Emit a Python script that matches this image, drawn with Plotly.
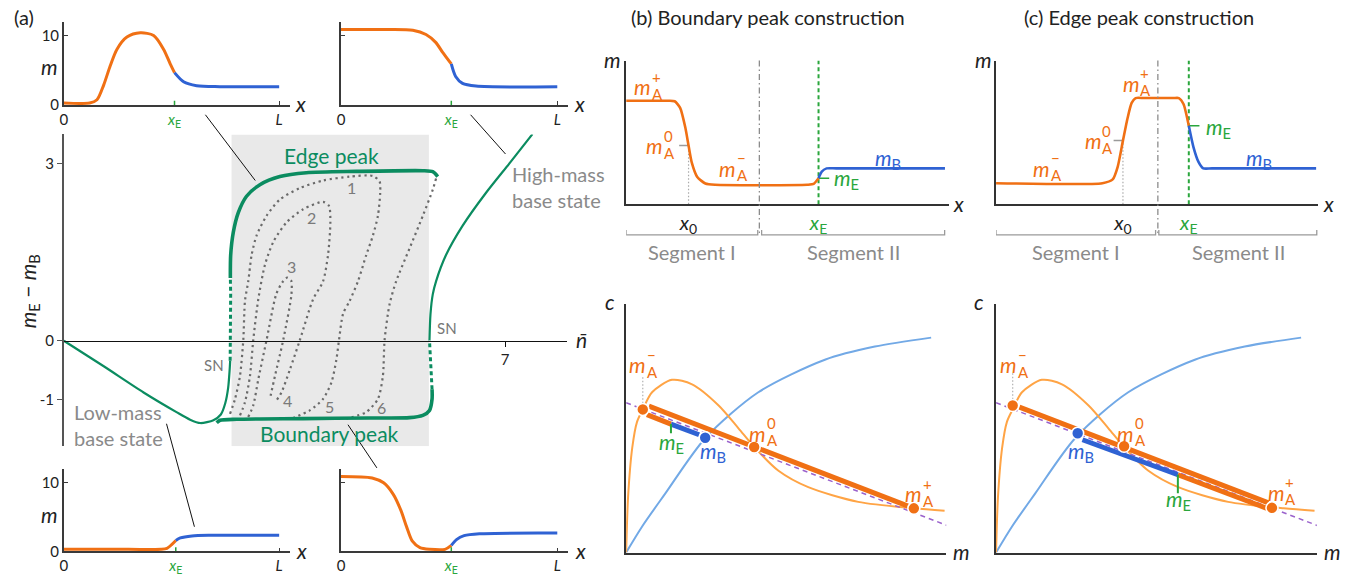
import plotly.graph_objects as go

W, H = 1346, 576
FONT = "Lato, 'Open Sans', sans-serif"

ORANGE = "#f07014"
BLUE = "#2f62d3"
GREEN = "#0b8c60"
GREEN_L = "#2aa63c"
ORANGE_L = "#ffa445"
BLUE_L = "#72a9e6"
PURPLE = "#9a62cc"
GRAY_T = "#8a8a8a"
DOT_GRAY = "#6a6a6a"
AXIS = "#3a3a3a"

# ---------------- (a) bifurcation diagram ----------------
low_n = [0, 0.633, 1.265, 1.787, 2.003, 2.166, 2.372, 2.49, 2.56, 2.607, 2.63, 2.638]
low_d = [0, -0.433, -0.877, -1.21, -1.338, -1.395, -1.348, -1.25, -1.06, -0.79, -0.49, -0.34]
unst_left_n = [2.638, 2.645, 2.646, 2.641]
unst_left_d = [-0.34, 0.29, 0.79, 1.065]
edge_n = [2.641, 2.646, 2.688, 2.767, 2.898, 3.110, 3.427, 3.847, 4.638, 5.693, 5.851, 5.930]
edge_d = [1.065, 1.453, 1.840, 2.173, 2.451, 2.646, 2.784, 2.850, 2.872, 2.884, 2.867, 2.784]
bound_n = [2.424, 2.478, 2.741, 3.795, 4.850, 5.482, 5.693, 5.799, 5.840, 5.840]
bound_d = [-1.39, -1.348, -1.331, -1.321, -1.309, -1.304, -1.265, -1.181, -0.988, -0.822]
unst_right_n = [5.840, 5.819, 5.799]
unst_right_d = [-0.822, -0.378, 0.01]
high_n = [5.799, 5.815, 5.851, 5.903, 6.061, 6.325, 6.693, 7.064, 7.432]
high_d = [0.01, 0.454, 0.787, 1.008, 1.453, 1.952, 2.506, 3.005, 3.504]

# secondary branches (dotted)
br1_n = [2.636, 2.715, 2.794, 2.846, 2.873, 2.925, 2.978, 3.057, 3.215, 3.427, 3.743, 4.111, 4.533,
         4.902, 5.008, 5.017, 4.981, 4.902, 4.796, 4.665, 4.533, 4.428, 4.364, 4.322, 4.243, 4.111,
         3.901, 3.637]
br1_d = [-1.238, -0.988, -0.594, 0.010, 0.676, 1.008, 1.453, 1.785, 2.118, 2.396, 2.589, 2.717, 2.784,
         2.795, 2.701, 2.506, 2.118, 1.785, 1.453, 1.008, 0.676, 0.454, 0.010, -0.323, -0.710, -0.988,
         -1.181, -1.310]
br2_n = [2.794, 2.873, 2.952, 3.004, 3.084, 3.189, 3.321, 3.531, 3.795, 4.111, 4.206, 4.227, 4.190,
         4.111, 3.953, 3.743, 3.585, 3.452, 3.373]
br2_d = [-1.265, -1.043, -0.599, 0.010, 0.704, 1.286, 1.674, 2.007, 2.230, 2.356, 2.285, 2.007, 1.453,
         1.008, 0.704, 0.010, -0.489, -0.877, -1.010]
br3_n = [2.925, 3.004, 3.084, 3.215, 3.368, 3.463, 3.542, 3.605, 3.610, 3.479, 3.348, 3.268]
br3_d = [-1.293, -1.098, -0.656, 0.010, 0.787, 0.987, 1.070, 1.020, 0.787, 0.010, -0.599, -0.988]
br4_n = [5.903, 5.851, 5.693, 5.482, 5.270, 5.166, 5.087, 5.060, 4.981, 4.796, 4.480]
br4_d = [2.751, 2.562, 2.118, 1.564, 1.008, 0.621, 0.010, -0.599, -0.988, -1.210, -1.321]

branch_labels = ["1", "2", "3", "4", "5", "6"]
branch_label_n = [4.57, 3.92, 3.605, 3.54, 4.22, 5.04]
branch_label_d = [2.60, 2.085, 1.253, -1.01, -1.11, -1.14]

window_n = [2.66, 5.79]

# ---------------- (a) profile insets ----------------
tl_xE = 0.514
tl_or_x = [0, 0.12, 0.154, 0.185, 0.216, 0.247, 0.293, 0.355, 0.417, 0.463, 0.494, 0.514]
tl_or_m = [0.28, 0.28, 0.75, 2.86, 5.68, 8.03, 9.77, 10.38, 10.0, 8.03, 5.92, 4.65]
tl_bl_x = [0.514, 0.556, 0.617, 0.725, 1.0]
tl_bl_m = [4.65, 3.34, 2.77, 2.63, 2.63]

tm_xE = 0.51
tm_or_x = [0, 0.2, 0.332, 0.393, 0.439, 0.47, 0.51]
tm_or_m = [10.85, 10.85, 10.75, 10.14, 8.97, 7.56, 5.9]
tm_bl_x = [0.51, 0.53, 0.562, 0.624, 1.0]
tm_bl_m = [5.9, 4.1, 3.1, 2.72, 2.63]

bl_xE = 0.52
bl_or_x = [0, 0.3, 0.452, 0.479, 0.502, 0.52]
bl_or_m = [0.28, 0.28, 0.28, 0.42, 1.0, 1.57]
bl_bl_x = [0.52, 0.541, 0.595, 0.684, 1.0]
bl_bl_m = [1.57, 1.95, 2.24, 2.33, 2.33]

br_xE = 0.51
br_or_x = [0, 0.144, 0.197, 0.241, 0.277, 0.303, 0.33, 0.365, 0.41, 0.481, 0.51]
br_or_m = [10.9, 10.68, 9.97, 8.33, 5.96, 3.59, 1.46, 0.52, 0.28, 0.28, 0.85]
br_bl_x = [0.51, 0.534, 0.569, 0.64, 1.0]
br_bl_m = [0.85, 1.70, 2.27, 2.55, 2.65]

# ---------------- (b)/(c) constructions: profiles ----------------
b_x0, b_xE, b_seg = 1.93, 5.95, 4.12
b_or_x = [0, 1.3, 1.5, 1.67, 1.83, 1.93, 2.03, 2.2, 2.45, 2.75, 5.6, 5.8, 5.95]
b_or_m = [7.2, 7.2, 7.17, 6.71, 5.34, 4.09, 2.9, 1.9, 1.45, 1.36, 1.36, 1.42, 1.81]
b_bl_x = [5.95, 6.05, 6.2, 6.5, 9.86]
b_bl_m = [1.81, 2.27, 2.5, 2.5, 2.5]
b_m0, b_mE = 4.09, 1.81

c_x0, c_xE, c_seg = 3.937, 5.98, 5.02
c_or_x = [0, 3.3, 3.619, 3.774, 3.937, 4.083, 4.207, 4.33, 4.6, 5.5, 5.67, 5.815, 5.98]
c_or_m = [1.47, 1.47, 1.73, 2.61, 4.43, 6.02, 7.05, 7.39, 7.39, 7.39, 7.39, 6.98, 5.46]
c_bl_x = [5.98, 6.124, 6.28, 6.43, 6.7, 9.93]
c_bl_m = [5.46, 3.98, 2.95, 2.5, 2.5, 2.5]
c_m0, c_mE = 4.43, 5.46

b_brackets = [(0, 4.07), (4.19, 9.85)]
c_brackets = [(0, 4.95), (5.05, 9.95)]

# ---------------- (b)/(c) constructions: (m, c) plane ----------------
nullA_m = [0, 0.06, 0.19, 0.34, 0.52, 0.81, 1.43, 2.06, 2.89, 3.51, 4.0, 4.76, 5.69, 7.25, 8.99, 9.95]
nullA_c = [0, 2.23, 4.21, 5.26, 5.76, 6.45, 6.95, 6.77, 5.92, 5.0, 4.25, 3.29, 2.63, 2.04, 1.78, 1.68]
nullB_m = [0, 0.5, 1.22, 2.47, 4.13, 6.21, 7.77, 9.53]
nullB_c = [0, 1.05, 2.37, 4.6, 6.45, 7.76, 8.29, 8.65]
eta_m = [0, 10.05]
eta_c = [6.03, 1.08]

b_dots_m = [0.52, 4.0, 8.99]
b_dots_c = [5.76, 4.25, 1.78]
b_mB = (2.47, 4.62)
b_upper = ([0.71, 8.81], [5.89, 1.87])
b_lower_or = ([0.65, 1.40], [5.55, 5.17])
b_lower_bl = ([1.40, 2.28], [5.17, 4.74])
b_mE_tick = ([1.40, 1.40], [5.17, 4.80])

c_dots_m = [0.52, 4.0, 8.62]
c_dots_c = [5.92, 4.28, 1.80]
c_mB = (2.55, 4.80)
c_upper = ([0.73, 8.51], [5.85, 2.0])
c_lower_bl = ([2.70, 5.68], [4.54, 3.13])
c_lower_or = ([5.68, 8.46], [3.13, 1.78])
c_mE_tick = ([5.68, 5.68], [3.13, 2.39])

# text sizes
T_TITLE = 20
T_LABEL = 21
T_SEG = 20
T_TICK = 15


def PX(px):
    return px / W


def PY(py):
    return 1 - py / H


fig = go.Figure()


def line(ax, xs, ys, color, width, dash=None, spline=True, smoothing=0.9):
    fig.add_trace(go.Scatter(
        x=xs, y=ys, mode="lines", xaxis="x" + ax, yaxis="y" + ax,
        line=dict(color=color, width=width, dash=dash,
                  shape="spline" if spline else "linear",
                  smoothing=smoothing if spline else None),
        hoverinfo="skip", showlegend=False))


def dots(ax, xs, ys, color, size=12):
    fig.add_trace(go.Scatter(
        x=xs, y=ys, mode="markers", xaxis="x" + ax, yaxis="y" + ax,
        marker=dict(color=color, size=size, line=dict(color="white", width=1.6)),
        hoverinfo="skip", showlegend=False, cliponaxis=False))


ann = []


def text(s, x, y, xref="paper", yref="paper", size=18, color="#222", xanchor="center",
         yanchor="middle", angle=0, xshift=0, yshift=0, align="center"):
    ann.append(dict(text=s, x=x, y=y, xref=xref, yref=yref, showarrow=False,
                    font=dict(size=size, color=color, family=FONT),
                    xanchor=xanchor, yanchor=yanchor, textangle=angle,
                    xshift=xshift, yshift=yshift, align=align))


def mlab(ax, x, y, sup, sub, color, size=T_LABEL):
    xr, yr = "x" + ax, "y" + ax
    text("<i>m</i>", x, y, xr, yr, size, color)
    text(sup, x, y, xr, yr, 15, color, xanchor="left", xshift=7, yshift=10)
    text(sub, x, y, xr, yr, 15, color, xanchor="left", xshift=7, yshift=-7)


shapes = []

# ---------- panel (a) main ----------
shapes.append(dict(type="rect", xref="x", yref="y", x0=window_n[0], x1=window_n[1],
                   y0=-1.79, y1=3.5, fillcolor="#e9e9e9", line=dict(width=0), layer="below"))

dotted = "2.2px,3.6px"
for bn, bd in [(br1_n, br1_d), (br2_n, br2_d), (br3_n, br3_d), (br4_n, br4_d)]:
    line("", bn, bd, DOT_GRAY, 2.2, dash=dotted, smoothing=0.7)

line("", low_n, low_d, GREEN, 2.2, smoothing=0.7)
line("", unst_left_n, unst_left_d, GREEN, 3, dash="4px,3px", spline=False)
line("", edge_n, edge_d, GREEN, 3.6, smoothing=0.7)
line("", bound_n, bound_d, GREEN, 3.6, smoothing=0.7)
line("", unst_right_n, unst_right_d, GREEN, 3, dash="4px,3px", spline=False)
line("", high_n, high_d, GREEN, 2.2, smoothing=0.7)

for lab, bn, bd in zip(branch_labels, branch_label_n, branch_label_d):
    text(lab, bn, bd, "x", "y", 16, "#7a7a7a")

text("Edge peak", 4.24, 3.15, "x", "y", 21, GREEN)
text("Boundary peak", 4.22, -1.576, "x", "y", 21, GREEN)
text("High-mass<br>base state", 7.08, 2.61, "x", "y", 20, GRAY_T, xanchor="left", align="left")
text("Low-mass<br>base state", 0.127, -1.426, "x", "y", 20, GRAY_T, xanchor="left", align="left")
text("SN", 5.89, 0.22, "x", "y", 15, "#777", xanchor="left")
text("SN", 2.57, -0.41, "x", "y", 15, "#777", xanchor="right")
text("<i>n̄</i>", PX(579), PY(346), size=21)
text("<i>m</i><sub>E</sub> − <i>m</i><sub>B</sub>", PX(25), PY(297), size=21, angle=-90)
text("(a)", PX(20), PY(17), size=T_TITLE)

# ---------- panel (a) insets ----------
insets = [
    ("2", tl_or_x, tl_or_m, tl_bl_x, tl_bl_m, tl_xE),
    ("3", tm_or_x, tm_or_m, tm_bl_x, tm_bl_m, tm_xE),
    ("4", bl_or_x, bl_or_m, bl_bl_x, bl_bl_m, bl_xE),
    ("5", br_or_x, br_or_m, br_bl_x, br_bl_m, br_xE),
]
for ax, ox, om, bx, bm, xe in insets:
    line(ax, ox, om, ORANGE, 3, smoothing=0.8)
    line(ax, bx, bm, BLUE, 3, smoothing=0.8)
    shapes.append(dict(type="line", xref="x" + ax, yref="y" + ax, x0=xe, x1=xe, y0=0, y1=0.6,
                       line=dict(color=GREEN_L, width=1.5)))

text("<i>m</i>", PX(46), PY(68), size=T_LABEL)
text("<i>m</i>", PX(46), PY(525), size=T_LABEL)
for xpx, ypx in [(297, 106), (577, 106), (298, 561), (578, 561)]:
    text("<i>x</i>", PX(xpx), PY(ypx), size=T_LABEL)

# callout connectors
for (x0, y0, x1, y1) in [(202, 117, 252, 184), (468, 117, 503, 157),
                         (163, 432, 191, 537), (345, 433, 374, 477)]:
    shapes.append(dict(type="line", xref="paper", yref="paper", x0=PX(x0), y0=PY(y0),
                       x1=PX(x1), y1=PY(y1), line=dict(color="#111", width=1)))

# ---------- panels (b)/(c) top: profiles ----------
for ax, ox, om, bx, bm, x0, xe, seg, m0, mE, brk in [
        ("6", b_or_x, b_or_m, b_bl_x, b_bl_m, b_x0, b_xE, b_seg, b_m0, b_mE, b_brackets),
        ("7", c_or_x, c_or_m, c_bl_x, c_bl_m, c_x0, c_xE, c_seg, c_m0, c_mE, c_brackets)]:
    line(ax, [x0, x0], [0, m0], "#aaaaaa", 1.2, dash="1.5px,2px", spline=False)
    line(ax, [x0 - 0.29, x0], [m0, m0], "#9a9a9a", 1.5, spline=False)
    line(ax, [xe, xe], [0, 10], GREEN_L, 2, dash="4px,3px", spline=False)
    line(ax, [xe, xe + 0.33], [mE, mE], GREEN_L, 1.5, spline=False)
    line(ax, ox, om, ORANGE, 2.6, smoothing=0.6)
    line(ax, bx, bm, BLUE, 2.6, smoothing=0.6)
    shapes.append(dict(type="line", xref="x" + ax, yref="paper", x0=seg, x1=seg,
                       y0=PY(61.7), y1=PY(240), line=dict(color="#8c8c8c", width=1.3,
                                                          dash="6px,3px,1.5px,3px")))
    for a, b in brk:
        shapes.append(dict(type="path", xref="x" + ax, yref="paper",
                           path=f"M {a},{PY(234.5)} L {a},{PY(239.5)} L {b},{PY(239.5)} L {b},{PY(234.5)}",
                           line=dict(color="#9a9a9a", width=1.3)))

# labels (b) top
mlab("6", 0.52, 8.19, "+", "A", ORANGE)
mlab("6", 0.88, 4.09, "0", "A", ORANGE)
mlab("6", 3.14, 2.50, "−", "A", ORANGE)
text("<i>m</i><sub>B</sub>", 8.1, 3.18, "x6", "y6", T_LABEL, BLUE)
text("<i>m</i><sub>E</sub>", 6.37, 1.75, "x6", "y6", T_LABEL, GREEN_L, xanchor="left")
text("Segment I", PX(690), PY(256.7), size=T_SEG, color=GRAY_T)
text("Segment II", PX(851.7), PY(256.7), size=T_SEG, color=GRAY_T)
text("<i>m</i>", PX(610), PY(61), size=T_LABEL)
text("<i>x</i>", PX(957), PY(207), size=T_LABEL)
text("(b) Boundary peak construction", PX(766), PY(17), size=T_TITLE)

# labels (c) top
mlab("7", 1.42, 2.50, "−", "A", ORANGE)
mlab("7", 3.02, 4.43, "0", "A", ORANGE)
mlab("7", 4.20, 8.41, "+", "A", ORANGE)
text("<i>m</i><sub>E</sub>", 6.44, 5.34, "x7", "y7", T_LABEL, GREEN_L, xanchor="left")
text("<i>m</i><sub>B</sub>", 8.17, 3.18, "x7", "y7", T_LABEL, BLUE)
text("Segment I", PX(1075), PY(256.7), size=T_SEG, color=GRAY_T)
text("Segment II", PX(1238.3), PY(256.7), size=T_SEG, color=GRAY_T)
text("<i>m</i>", PX(982), PY(61), size=T_LABEL)
text("<i>x</i>", PX(1328.5), PY(207), size=T_LABEL)
text("(c) Edge peak construction", PX(1138), PY(17), size=T_TITLE)

# ---------- panels (b)/(c) bottom: (m, c) plane ----------
for ax, dm, dc, mB, upper, lowers, tick in [
        ("8", b_dots_m, b_dots_c, b_mB, b_upper, [(b_lower_or, ORANGE), (b_lower_bl, BLUE)], b_mE_tick),
        ("9", c_dots_m, c_dots_c, c_mB, c_upper, [(c_lower_bl, BLUE), (c_lower_or, ORANGE)], c_mE_tick)]:
    line(ax, nullB_m, nullB_c, BLUE_L, 2, smoothing=0.8)
    line(ax, nullA_m, nullA_c, ORANGE_L, 2, smoothing=0.8)
    line(ax, eta_m, eta_c, PURPLE, 1.5, dash="5px,4px", spline=False)
    line(ax, [dm[0], dm[0]], [dc[0] + 1.3, dc[0]], "#b0b0b0", 1.2, dash="1.5px,2px", spline=False)
    line(ax, upper[0], upper[1], ORANGE, 5, spline=False)
    for (lx, ly), col in lowers:
        line(ax, lx, ly, col, 5, spline=False)
    line(ax, tick[0], tick[1], GREEN_L, 2, spline=False)
    dots(ax, dm, dc, ORANGE)
    dots(ax, [mB[0]], [mB[1]], BLUE)
    text("<i>η</i><sub>0</sub>", -0.25, 6.03, "x" + ax, "y" + ax, 20, PURPLE, xanchor="right")

mlab("8", 0.37, 7.56, "−", "A", ORANGE)
mlab("8", 4.11, 4.80, "0", "A", ORANGE)
mlab("8", 8.99, 2.37, "+", "A", ORANGE)
text("<i>m</i><sub>E</sub>", 1.41, 4.40, "x8", "y8", T_LABEL, GREEN_L)
text("<i>m</i><sub>B</sub>", 2.70, 4.05, "x8", "y8", T_LABEL, BLUE)
text("<i>c</i>", PX(608), PY(307), size=T_LABEL)
text("<i>m</i>", PX(960), PY(562), size=T_LABEL)

mlab("9", 0.39, 7.56, "−", "A", ORANGE)
mlab("9", 4.05, 4.80, "0", "A", ORANGE)
mlab("9", 8.75, 2.43, "+", "A", ORANGE)
text("<i>m</i><sub>B</sub>", 2.66, 4.05, "x9", "y9", T_LABEL, BLUE)
text("<i>m</i><sub>E</sub>", 5.70, 2.10, "x9", "y9", T_LABEL, GREEN_L)
text("<i>c</i>", PX(978), PY(307), size=T_LABEL)
text("<i>m</i>", PX(1332), PY(562), size=T_LABEL)

# ---------------- axes ----------------
tickfont = dict(size=T_TICK, color="#222", family=FONT)
green_xE = f"<span style='color:{GREEN_L}'><i>x</i><sub>E</sub></span>"


def plain(**kw):
    base = dict(showgrid=False, zeroline=False, fixedrange=True, tickfont=tickfont)
    base.update(kw)
    return base


layout_axes = {}
layout_axes["xaxis"] = plain(domain=[PX(60), PX(565)], range=[0, 7.985], anchor="free",
                             position=PY(347.3), showline=True, linecolor="#111", linewidth=1.2,
                             ticks="outside", ticklen=5, tickcolor="#111",
                             tickvals=[7], ticktext=["7"])
layout_axes["yaxis"] = plain(domain=[PY(455), PY(137)], range=[-1.79, 3.5], anchor="x",
                             showline=True, linecolor="#555", linewidth=1.5,
                             ticks="outside", ticklen=5, tickcolor="#555",
                             tickvals=[3, 0, -1], ticktext=["3", "0", "-1"])

inset_geom = {"2": (60, 287, 107, 22, True, tl_xE), "3": (338, 566, 107, 22, False, tm_xE),
              "4": (60, 287, 562, 478, True, bl_xE), "5": (338, 566, 562, 478, False, br_xE)}
for ax, (xl, xr_, yb, yt, lab, xe) in inset_geom.items():
    layout_axes["xaxis" + ax] = plain(domain=[PX(xl), PX(xr_)], range=[0, 1.051], anchor="y" + ax,
                                      showline=True, linecolor=AXIS, linewidth=1.5,
                                      ticks="inside", ticklen=4, tickcolor=AXIS,
                                      tickvals=[0, xe, 1], ticktext=["0", green_xE, "<i>L</i>"])
    layout_axes["yaxis" + ax] = plain(domain=[PY(yb), PY(yt)], range=[0, 12], anchor="x" + ax,
                                      showline=True, linecolor=AXIS, linewidth=1.5,
                                      ticks="inside", ticklen=4, tickcolor=AXIS,
                                      tickvals=[0, 10] if lab else [10],
                                      ticktext=["0", "10"] if lab else [""],
                                      showticklabels=lab)

for ax, xl, xr_, x0, xe in [("6", 624, 948.3, b_x0, b_xE), ("7", 995, 1318.3, c_x0, c_xE)]:
    layout_axes["xaxis" + ax] = plain(domain=[PX(xl), PX(xr_)], range=[0, 10], anchor="y" + ax,
                                      showline=True, linecolor="#333", linewidth=1.5, ticks="",
                                      tickvals=[x0, xe],
                                      ticktext=["<i>x</i><sub>0</sub>", green_xE],
                                      tickfont=dict(size=20, color="#222", family=FONT))
    layout_axes["yaxis" + ax] = plain(domain=[PY(208.3), PY(61.7)], range=[0, 10], anchor="x" + ax,
                                      showline=True, linecolor="#333", linewidth=1.5,
                                      showticklabels=False, ticks="")

for ax, xl, xr_, mr in [("8", 624, 945, 10.0), ("9", 995, 1316.7, 10.02)]:
    layout_axes["xaxis" + ax] = plain(domain=[PX(xl), PX(xr_)], range=[0, mr], anchor="y" + ax,
                                      showline=True, linecolor="#333", linewidth=1.5,
                                      showticklabels=False, ticks="")
    layout_axes["yaxis" + ax] = plain(domain=[PY(563.3), PY(310)], range=[0, 10], anchor="x" + ax,
                                      showline=True, linecolor="#333", linewidth=1.5,
                                      showticklabels=False, ticks="")

fig.update_layout(
    width=W, height=H, margin=dict(l=0, r=0, t=0, b=0),
    paper_bgcolor="white", plot_bgcolor="rgba(0,0,0,0)",
    font=dict(family=FONT, color="#222"),
    showlegend=False, shapes=shapes, annotations=ann, **layout_axes)

fig.write_html("out.html")
